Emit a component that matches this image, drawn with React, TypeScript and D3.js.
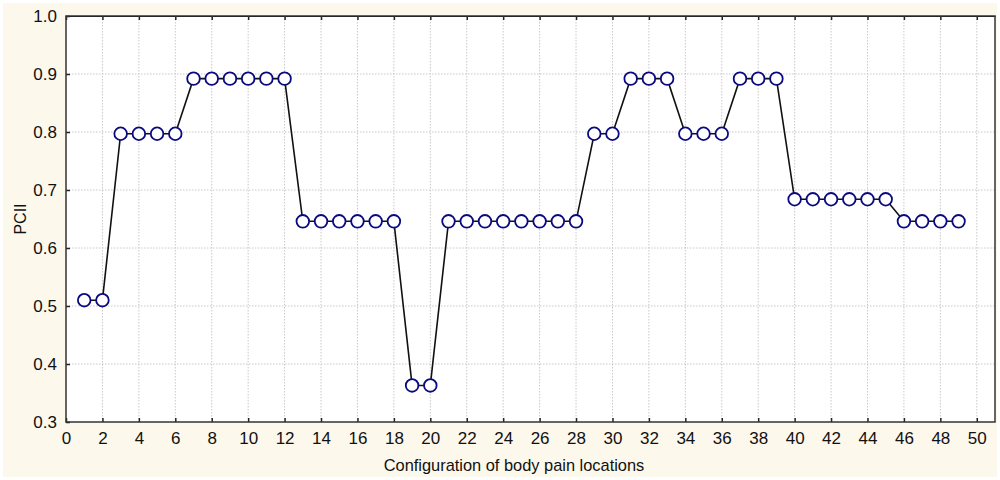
import React, { useEffect, useRef } from 'react';
import * as d3 from 'd3';

// configuration index and PCII value
const configs = [
  1, 2, 3, 4, 5, 6, 7, 8, 9, 10, 11, 12, 13, 14, 15, 16, 17, 18, 19, 20, 21, 22, 23, 24, 25,
  26, 27, 28, 29, 30, 31, 32, 33, 34, 35, 36, 37, 38, 39, 40, 41, 42, 43, 44, 45, 46, 47, 48, 49,
];
const pcii = [
  0.51, 0.51, 0.797, 0.797, 0.797, 0.797, 0.892, 0.892, 0.892, 0.892, 0.892, 0.892,
  0.646, 0.646, 0.646, 0.646, 0.646, 0.646, 0.363, 0.363,
  0.646, 0.646, 0.646, 0.646, 0.646, 0.646, 0.646, 0.646,
  0.797, 0.797, 0.892, 0.892, 0.892, 0.797, 0.797, 0.797, 0.892, 0.892, 0.892,
  0.684, 0.684, 0.684, 0.684, 0.684, 0.684, 0.646, 0.646, 0.646, 0.646,
];
const xTicks = d3.range(0, 51, 2);
const yTicks = [0.3, 0.4, 0.5, 0.6, 0.7, 0.8, 0.9, 1.0];

const App = () => {
  const svgRef = useRef<SVGSVGElement>(null);

  useEffect(() => {
    const W = 1000;
    const H = 480;
    const margin = { top: 16, right: 5, bottom: 58, left: 66 };
    const width = W - margin.left - margin.right;
    const height = H - margin.top - margin.bottom;

    const root = d3.select(svgRef.current);
    root.selectAll('*').remove();

    root.append('rect').attr('width', W).attr('height', H).attr('fill', '#ffffff');
    root.append('rect')
      .attr('x', 3).attr('y', 3)
      .attr('width', W - 6).attr('height', H - 6)
      .attr('fill', '#fdf8ec');

    const svg = root.append('g').attr('transform', `translate(${margin.left},${margin.top})`);

    const x = d3.scaleLinear().domain([0, 51]).range([0, width]);
    const y = d3.scaleLinear().domain([0.3, 1.0]).range([height, 0]);

    svg.append('rect').attr('width', width).attr('height', height).attr('fill', '#fff');

    // grid
    svg.append('g')
      .selectAll('line')
      .data(xTicks.filter(d => d > 0))
      .join('line')
      .attr('x1', d => x(d)).attr('x2', d => x(d))
      .attr('y1', 0).attr('y2', height)
      .attr('stroke', '#c8c8c8').attr('stroke-width', 1)
      .attr('stroke-dasharray', '1.5,1.5');
    svg.append('g')
      .selectAll('line')
      .data(yTicks.filter(d => d > 0.3 && d < 1.0))
      .join('line')
      .attr('x1', 0).attr('x2', width)
      .attr('y1', d => y(d)).attr('y2', d => y(d))
      .attr('stroke', '#c8c8c8').attr('stroke-width', 1)
      .attr('stroke-dasharray', '1.5,1.5');

    // axes (ticks point inwards)
    const fontFamily = "'Liberation Sans', Arial, sans-serif";
    const xAxis = svg.append('g')
      .attr('transform', `translate(0,${height})`)
      .call(d3.axisBottom(x).tickValues(xTicks).tickSizeInner(-4).tickSizeOuter(0).tickPadding(10).tickFormat(d3.format('d')));
    svg.append('g')
      .call(d3.axisTop(x).tickValues(xTicks).tickSizeInner(-4).tickSizeOuter(0).tickFormat(() => ''));
    const yAxis = svg.append('g')
      .call(d3.axisLeft(y).tickValues(yTicks).tickSizeInner(-4).tickSizeOuter(0).tickPadding(9).tickFormat(d3.format('.1f')));

    [xAxis, yAxis].forEach(g => {
      g.selectAll('text').attr('font-size', 17).attr('font-family', fontFamily).attr('fill', '#111');
      g.select('.domain').remove();
    });
    svg.selectAll('.tick line').attr('stroke', '#222').attr('stroke-width', 1.5);

    // frame
    svg.append('rect')
      .attr('width', width).attr('height', height)
      .attr('fill', 'none').attr('stroke', '#333').attr('stroke-width', 1.5);

    // line
    const data = configs.map((c, i) => [c, pcii[i]] as [number, number]);
    svg.append('path')
      .datum(data)
      .attr('fill', 'none')
      .attr('stroke', '#111')
      .attr('stroke-width', 1.6)
      .attr('d', d3.line<[number, number]>().x(d => x(d[0])).y(d => y(d[1])));

    svg.append('g')
      .selectAll('circle')
      .data(data)
      .join('circle')
      .attr('cx', d => x(d[0]))
      .attr('cy', d => y(d[1]))
      .attr('r', 6.3)
      .attr('fill', '#fff')
      .attr('stroke', '#0a0a80')
      .attr('stroke-width', 1.8);

    // axis titles
    root.append('text')
      .attr('x', 514)
      .attr('y', 471)
      .attr('text-anchor', 'middle')
      .attr('font-size', 16.4)
      .attr('font-family', fontFamily)
      .attr('fill', '#111')
      .text('Configuration of body pain locations');
    root.append('text')
      .attr('transform', `translate(26,${margin.top + y(0.65)}) rotate(-90)`)
      .attr('text-anchor', 'middle')
      .attr('font-size', 16)
      .attr('font-family', fontFamily)
      .attr('fill', '#111')
      .text('PCII');
  }, []);

  return (
    <div style={{ position: 'absolute', left: 0, top: 0 }}>
      <svg ref={svgRef} width={1000} height={480} style={{ display: 'block' }}></svg>
    </div>
  );
};

export default App;
